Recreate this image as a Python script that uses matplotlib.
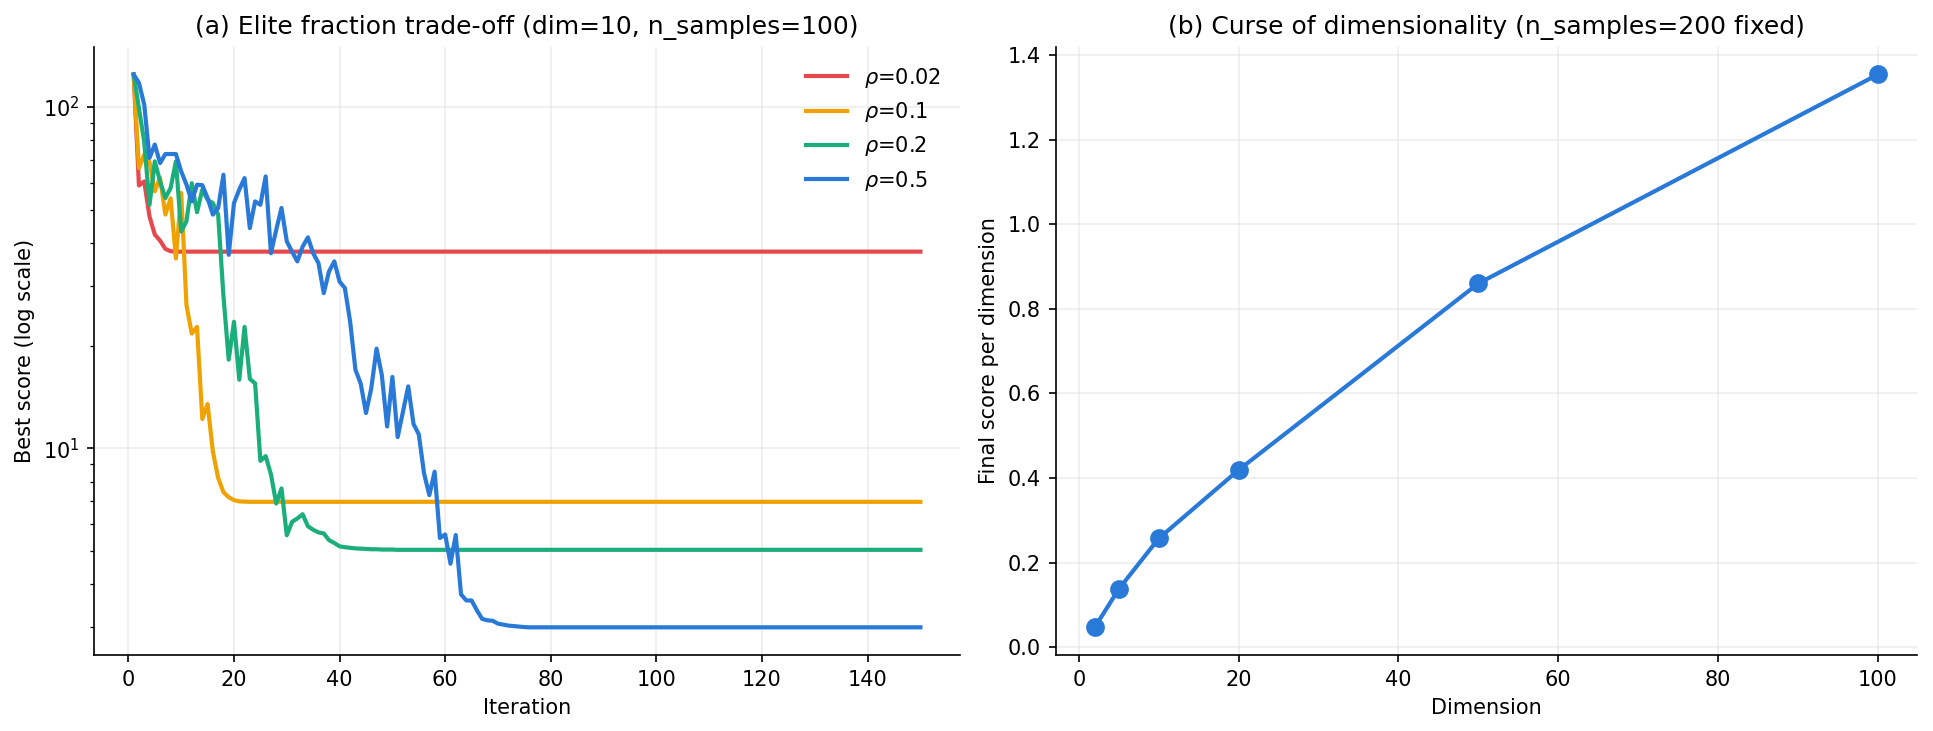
import matplotlib
matplotlib.use("Agg")
import matplotlib.pyplot as plt

# (a) best score per iteration for each elite fraction rho
iterations = list(range(1, 151))
rho_labels = [r"$\rho$=0.02", r"$\rho$=0.1", r"$\rho$=0.2", r"$\rho$=0.5"]

score_rho002 = [124.5, 58.9, 60.5, 47.8, 42.3, 40.6, 38.4, 37.8] + [37.7] * 142

score_rho01 = [124.5, 66.2, 72.5, 69.0, 56.6, 62.0, 48.4, 54.0, 36.0, 56.0,
               26.3, 21.7, 22.7, 12.2, 13.5, 9.8, 8.2, 7.45, 7.2, 7.06,
               7.0, 6.99] + [6.98] * 128

score_rho02 = [124.5, 99.0, 79.0, 51.7, 69.3, 60.5, 54.1, 57.9, 69.3, 43.2,
               46.3, 59.8, 49.2, 57.3, 53.5, 52.3, 48.4, 28.0, 18.2, 23.5,
               15.9, 22.7, 16.0, 15.5, 9.2, 9.5, 8.4, 6.90, 7.64, 5.57,
               6.10, 6.24, 6.42, 5.92, 5.78, 5.68, 5.64, 5.39, 5.29, 5.17,
               5.14, 5.12, 5.10, 5.09, 5.08, 5.07, 5.07, 5.06, 5.06, 5.06] + [5.05] * 100

score_rho05 = [124.4, 117.6, 101.6, 70.9, 77.6, 68.5, 72.8, 72.8, 72.8, 64.8,
               59.2, 52.9, 59.2, 59.0, 54.1, 48.4, 50.6, 63.3, 36.9, 52.3,
               57.3, 61.9, 44.2, 52.9, 51.7, 62.6, 37.3, 43.7, 50.6, 40.4,
               37.7, 35.3, 39.0, 41.5, 37.3, 34.9, 28.5, 33.0, 35.3, 30.8,
               29.5, 23.5, 17.0, 15.5, 12.7, 15.0, 19.6, 16.4, 11.6, 16.2,
               10.8, 12.8, 15.2, 11.8, 11.0, 8.45, 7.30, 8.55, 5.47, 5.6,
               4.60, 5.58, 3.74, 3.59, 3.59, 3.36, 3.17, 3.14, 3.13, 3.07,
               3.05, 3.03, 3.02, 3.01, 3.00] + [2.995] * 75

# (b) final score per dimension
dimensions = [2, 5, 10, 20, 50, 100]
score_per_dim = [0.047, 0.1375, 0.257, 0.419, 0.860, 1.354]

colors = ["#e5484d", "#f0a202", "#1aae7a", "#2979d9"]

fig = plt.figure(figsize=(1933 / 150, 731 / 150), dpi=150)
ax1 = fig.add_axes([0.0488, 0.104, 0.4477, 0.832])
ax2 = fig.add_axes([0.5461, 0.104, 0.4457, 0.832])

series = [score_rho002, score_rho01, score_rho02, score_rho05]
for vals, lab, c in zip(series, rho_labels, colors):
    ax1.plot(iterations, vals, color=c, lw=2, label=lab)
ax1.set_yscale("log")
ax1.set_xlabel("Iteration", fontsize=10)
ax1.set_ylabel("Best score (log scale)", fontsize=10)
ax1.set_title("(a) Elite fraction trade-off (dim=10, n_samples=100)", fontsize=12)
ax1.set_xticks(range(0, 141, 20))
ax1.legend(loc="upper right", frameon=False, fontsize=10)

ax2.plot(dimensions, score_per_dim, "o-", color="#2979d9", lw=2, ms=8)
ax2.set_xlabel("Dimension", fontsize=10)
ax2.set_ylabel("Final score per dimension", fontsize=10)
ax2.set_title("(b) Curse of dimensionality (n_samples=200 fixed)", fontsize=12)
ax2.set_xticks(range(0, 101, 20))
ax2.set_yticks([0.0, 0.2, 0.4, 0.6, 0.8, 1.0, 1.2, 1.4])

for ax in (ax1, ax2):
    ax.grid(True, color="#dddddd", alpha=0.5, lw=0.8)
    ax.spines["top"].set_visible(False)
    ax.spines["right"].set_visible(False)
    ax.tick_params(labelsize=10)

fig.savefig("out.png", dpi=150)
